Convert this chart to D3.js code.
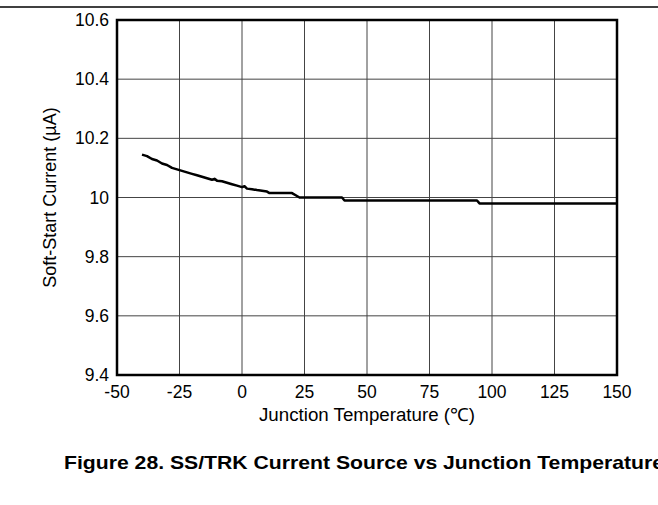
<!DOCTYPE html>
<html>
<head>
<meta charset="utf-8">
<script src="https://cdn.jsdelivr.net/npm/d3@7"></script>
<style>
  body { margin: 0; background: #fff; }
  text { font-family: "Liberation Sans", Arial, sans-serif; fill: #000; }
</style>
</head>
<body>
<svg id="chart" width="658" height="505"></svg>
<script>
let width = 658,
    height = 505;

// temperature (°C) and soft-start current (µA)
let temps = [-40, -38, -36, -34, -32, -30, -28, -26, -24, -22, -20, -18, -16, -14, -12, -11, -10, -8, -6, -4, -2, 0, 1, 2, 4, 6, 10, 11, 20, 22, 23, 40, 41, 94, 95, 150];
let current = [10.145, 10.14, 10.13, 10.125, 10.115, 10.11, 10.1, 10.095, 10.09, 10.085, 10.08, 10.075, 10.07, 10.065, 10.06, 10.063, 10.057, 10.055, 10.05, 10.045, 10.04, 10.035, 10.038, 10.03, 10.028, 10.025, 10.02, 10.015, 10.015, 10.005, 10.0, 10.0, 9.99, 9.99, 9.98, 9.98];

let xTicks = [-50, -25, 0, 25, 50, 75, 100, 125, 150];
let yTicks = [9.4, 9.6, 9.8, 10, 10.2, 10.4, 10.6];

let data = temps.map((t, i) => ({t: t, v: current[i]}));

let margin = {left: 117, right: 41, top: 20, bottom: 130};
let x = d3.scaleLinear().domain([-50, 150]).range([margin.left, width - margin.right]);
let y = d3.scaleLinear().domain([9.4, 10.6]).range([height - margin.bottom, margin.top]);

let svg = d3.select("#chart");

// rule across the top of the page
svg.append("line")
    .attr("x1", 0).attr("x2", width)
    .attr("y1", 7).attr("y2", 7)
    .attr("stroke", "black")
    .attr("stroke-width", 1.5);

// grid
svg.append("g")
  .selectAll("line")
  .data(xTicks.slice(1, -1))
  .enter().append("line")
    .attr("x1", d => x(d)).attr("x2", d => x(d))
    .attr("y1", y(10.6)).attr("y2", y(9.4))
    .attr("stroke", "#444")
    .attr("stroke-width", 1);

svg.append("g")
  .selectAll("line")
  .data(yTicks.slice(1, -1))
  .enter().append("line")
    .attr("x1", x(-50)).attr("x2", x(150))
    .attr("y1", d => y(d)).attr("y2", d => y(d))
    .attr("stroke", "#444")
    .attr("stroke-width", 1);

// curve
let line = d3.line()
    .x(d => x(d.t))
    .y(d => y(d.v));

svg.append("path")
    .datum(data)
    .attr("fill", "none")
    .attr("stroke", "black")
    .attr("stroke-width", 2.5)
    .attr("stroke-linejoin", "round")
    .attr("d", line);

// frame
svg.append("rect")
    .attr("x", x(-50)).attr("y", y(10.6))
    .attr("width", x(150) - x(-50))
    .attr("height", y(9.4) - y(10.6))
    .attr("fill", "none")
    .attr("stroke", "black")
    .attr("stroke-width", 2.5);

// tick labels
svg.append("g")
  .selectAll("text")
  .data(yTicks)
  .enter().append("text")
    .attr("x", x(-50) - 8)
    .attr("y", d => y(d))
    .attr("dy", "0.35em")
    .attr("text-anchor", "end")
    .style("font-size", "17.5px")
    .text(d => d3.format("~g")(d));

svg.append("g")
  .selectAll("text")
  .data(xTicks)
  .enter().append("text")
    .attr("x", d => x(d))
    .attr("y", 398)
    .attr("text-anchor", "middle")
    .style("font-size", "17.5px")
    .text(d => d);

// axis titles
svg.append("text")
    .attr("x", (x(-50) + x(150)) / 2)
    .attr("y", 421)
    .attr("text-anchor", "middle")
    .attr("textLength", 216)
    .attr("lengthAdjust", "spacingAndGlyphs")
    .style("font-size", "18px")
    .text("Junction Temperature (\u2103)");

svg.append("text")
    .attr("transform", "translate(56," + (y(10)) + ") rotate(-90)")
    .attr("text-anchor", "middle")
    .style("font-size", "18px")
    .text("Soft-Start Current (\u00b5A)");

// caption
svg.append("text")
    .attr("x", 64)
    .attr("y", 469)
    .attr("textLength", 600)
    .attr("lengthAdjust", "spacingAndGlyphs")
    .style("font-size", "19px")
    .style("font-weight", "bold")
    .text("Figure 28. SS/TRK Current Source vs Junction Temperature");
</script>
</body>
</html>
